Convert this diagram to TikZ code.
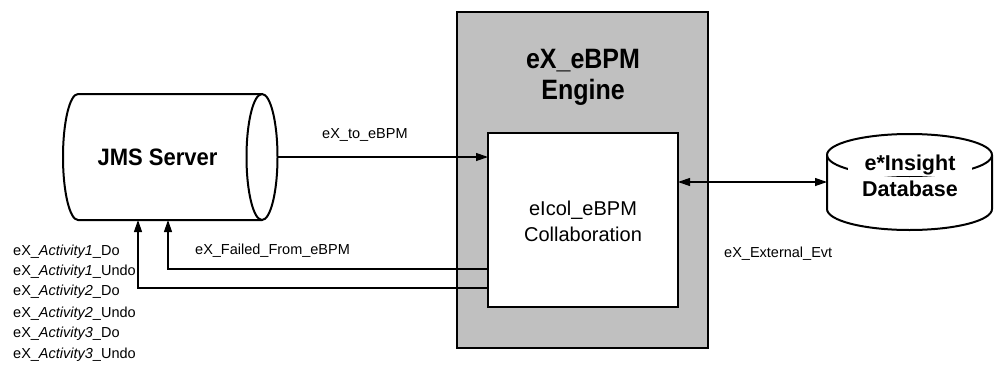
\documentclass[tikz,border=0pt]{standalone}
\usepackage{fontspec}
\setmainfont{Liberation Sans}
\usetikzlibrary{arrows.meta,calc}
\definecolor{enggray}{HTML}{C0C0C0}
\begin{document}
\begin{tikzpicture}[x=1pt,y=-1pt,
  arr/.style={line width=1.2pt,-{Triangle[length=12pt,width=8pt]}},
  arrb/.style={line width=1.2pt,{Triangle[length=12pt,width=8pt]}-{Triangle[length=12pt,width=8pt]}},
  cyl/.style={line width=2pt},
  small/.style={font=\fontsize{14.5}{17}\selectfont, inner sep=0pt, anchor=base west},
  bigb/.style={font=\bfseries\fontsize{22}{26}\selectfont, inner sep=0pt, anchor=base},
  mid/.style={font=\fontsize{20}{24}\selectfont, inner sep=0pt, anchor=base},
  ghost/.style={inner sep=0pt, outer sep=0pt}]
\useasboundingbox (0,0) rectangle (1000,364);

% engine box
\node[draw, fill=enggray, line width=2pt, minimum width=251pt, minimum height=336pt, ghost] (engine) at (582.5,180) {};
\node[bigb, font=\bfseries\fontsize{25}{30}\selectfont] (t1) at (583,68) {\scalebox{1}[1.12]{eX\_eBPM}};
\node[bigb, font=\bfseries\fontsize{25}{30}\selectfont] (t2) at (583,99) {\scalebox{1}[1.12]{Engine}};

% inner collaboration box
\node[draw, fill=white, line width=1.5pt, minimum width=190pt, minimum height=174pt, ghost] (inner) at (583,220) {};
\node[mid] (c1) at (583,215) {eIcol\_eBPM};
\node[mid] (c2) at (583,241) {Collaboration};

% JMS server cylinder
\node[ghost, minimum width=214pt, minimum height=126pt] (jms) at (170,157) {};
\draw[cyl] (78,94) -- (262,94)
  (78,94) arc[start angle=90, end angle=270, x radius=15pt, y radius=63pt] -- (262,220);
\draw[cyl] (262,157) ellipse[x radius=15.5pt, y radius=63pt];
\node[bigb] (jmst) at (157.5,165) {\scalebox{1}[1.08]{JMS Server}};

% database cylinder
\node[ghost, minimum width=165pt, minimum height=96pt] (db) at (909.5,182) {};
\draw[cyl] (827,155) arc[start angle=180, end angle=0, x radius=82.5pt, y radius=21pt]
  -- (992,209) arc[start angle=0, end angle=-180, x radius=82.5pt, y radius=21pt] -- cycle;
\draw[cyl] (827,155) arc[start angle=180, end angle=360, x radius=82.5pt, y radius=21pt];
\node[bigb, font=\bfseries\fontsize{21.5}{26}\selectfont, fill=white, inner xsep=17pt, inner ysep=1pt] (d1) at (910,170) {e*Insight};
\node[bigb, font=\bfseries\fontsize{21.5}{26}\selectfont] (d2) at (910,196) {Database};

% connectors
\coordinate (fa) at (168,269);
\coordinate (fb) at (138,288);
\draw[arr] (jms.east) -- (jms.east -| inner.west);
\draw[arrb] (inner.east |- db.west) -- (db.west);
\draw[arr] (inner.west |- fa) -| (fa |- jms.south);
\draw[arr] (inner.west |- fb) -| (fb |- jms.south);

% labels
\node[small] (l1) at (322,138) {eX\_to\_eBPM};
\node[small] (l2) at (195,254) {eX\_Failed\_From\_eBPM};
\node[small] (l3) at (724,257) {eX\_External\_Evt};
\node[small] (a1) at (13,255) {eX\_\textit{Activity1}\_Do};
\node[small] (a2) at (13,275) {eX\_\textit{Activity1}\_Undo};
\node[small] (a3) at (13,295) {eX\_\textit{Activity2}\_Do};
\node[small] (a4) at (13,317) {eX\_\textit{Activity2}\_Undo};
\node[small] (a5) at (13,337) {eX\_\textit{Activity3}\_Do};
\node[small] (a6) at (13,358) {eX\_\textit{Activity3}\_Undo};
\end{tikzpicture}
\end{document}
